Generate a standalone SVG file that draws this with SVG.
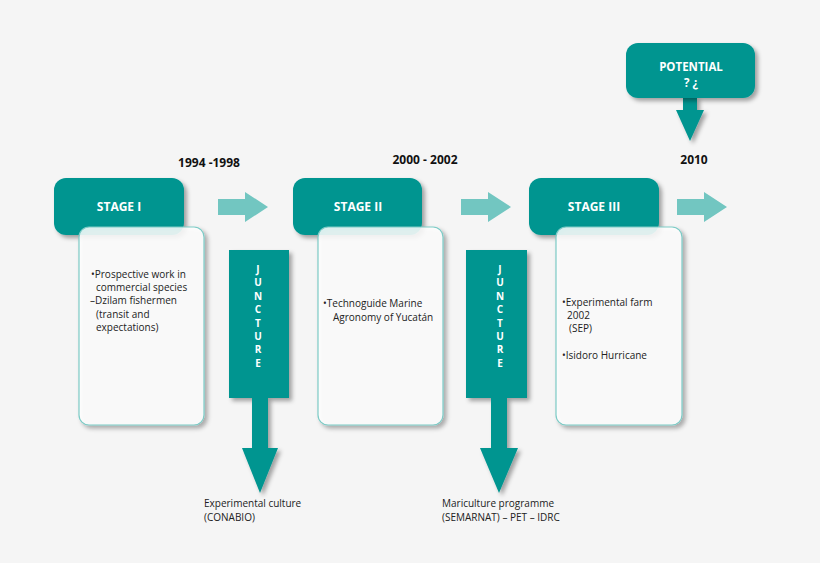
<svg xmlns="http://www.w3.org/2000/svg" width="820" height="563" viewBox="0 0 820 563">
<defs>
<filter id="sh" x="-20%" y="-20%" width="150%" height="150%"><feDropShadow dx="3" dy="3" stdDeviation="2" flood-color="#000" flood-opacity="0.35"/></filter>
<style>
.stage{fill:#009590;filter:url(#sh)}
.card{fill:#fff;fill-opacity:0.85;stroke:#7ccbc6;stroke-width:1.2;filter:url(#sh)}
.light{fill:#72c6c1}
.st{font-family:"Open Sans","Liberation Sans",sans-serif;font-weight:bold;font-size:12px;fill:#fff;text-anchor:middle}
.yr{font-family:"Open Sans","Liberation Sans",sans-serif;font-weight:bold;font-size:12px;fill:#111;text-anchor:middle}
.tx{font-family:"Open Sans","Liberation Sans",sans-serif;font-size:10px;fill:#222}
.jl{font-family:"Open Sans","Liberation Sans",sans-serif;font-weight:bold;font-size:10px;fill:#fff;text-anchor:middle}
</style>
</defs>
<rect width="820" height="563" fill="#f5f5f5"/>
<g id="connectors">
<polygon class="light" points="218,199 245,199 245,192 268,207 245,222 245,215 218,215"/>
<polygon class="light" points="461,199 488,199 488,192 511,207 488,222 488,215 461,215"/>
<polygon class="light" points="677,199 704,199 704,192 727,207 704,222 704,215 677,215"/>
<polygon class="stage" points="683,97 697,97 697,110 704,110 690,141 676,110 683,110"/>
</g>
<g id="potential"><rect class="stage" x="626" y="43" width="129" height="55" rx="12"/>
<text class="st" x="691" y="71" style="font-size:11.5px">POTENTIAL</text><text class="st" x="691" y="87" style="font-size:11.5px">? ¿</text></g>
<text class="yr" x="209" y="167">1994 -1998</text>
<text class="yr" x="425" y="164">2000 - 2002</text>
<text class="yr" x="694" y="164">2010</text>
<g id="stage1"><rect class="stage" x="54" y="178" width="130" height="57" rx="12"/>
<text class="st" x="119" y="211">STAGE I</text>
<rect class="card" x="79" y="227" width="125" height="198" rx="10"/>
<text class="tx" x="91" y="278">•Prospective work in</text>
<text class="tx" x="96" y="291">commercial species</text>
<text class="tx" x="90" y="304">–Dzilam fishermen</text>
<text class="tx" x="96" y="318">(transit and</text>
<text class="tx" x="96" y="331">expectations)</text></g>
<g id="stage2"><rect class="stage" x="293" y="178" width="129" height="57" rx="12"/>
<text class="st" x="358" y="211">STAGE II</text>
<rect class="card" x="318" y="227" width="125" height="198" rx="10"/>
<text class="tx" x="323" y="307">•Technoguide Marine</text>
<text class="tx" x="333" y="321">Agronomy of Yucatán</text></g>
<g id="stage3"><rect class="stage" x="529" y="178" width="130" height="57" rx="12"/>
<text class="st" x="594" y="211">STAGE III</text>
<rect class="card" x="556" y="227" width="126" height="198" rx="10"/>
<text class="tx" x="562" y="306">•Experimental farm</text>
<text class="tx" x="567" y="319">2002</text>
<text class="tx" x="569" y="332">(SEP)</text>
<text class="tx" x="562" y="359">•Isidoro Hurricane</text></g>
<g id="juncture1"><polygon class="stage" points="229,250 289,250 289,398 268,398 268,448 278,448 260,493 242,448 252,448 252,398 229,398"/>
<g class="jl"><text x="258" y="273">J</text><text x="258" y="286">U</text><text x="258" y="300">N</text><text x="258" y="313">C</text><text x="258" y="327">T</text><text x="258" y="340">U</text><text x="258" y="353">R</text><text x="258" y="367">E</text></g>
<text class="tx" x="204" y="507">Experimental culture</text><text class="tx" x="204" y="521">(CONABIO)</text></g>
<g id="juncture2"><polygon class="stage" points="466,250 527,250 527,398 507,398 507,448 518,448 499,493 480,448 491,448 491,398 466,398"/>
<g class="jl"><text x="500" y="273">J</text><text x="500" y="286">U</text><text x="500" y="300">N</text><text x="500" y="313">C</text><text x="500" y="327">T</text><text x="500" y="340">U</text><text x="500" y="353">R</text><text x="500" y="367">E</text></g>
<text class="tx" x="442" y="507">Mariculture programme</text><text class="tx" x="442" y="521">(SEMARNAT) – PET – IDRC</text></g>
</svg>
